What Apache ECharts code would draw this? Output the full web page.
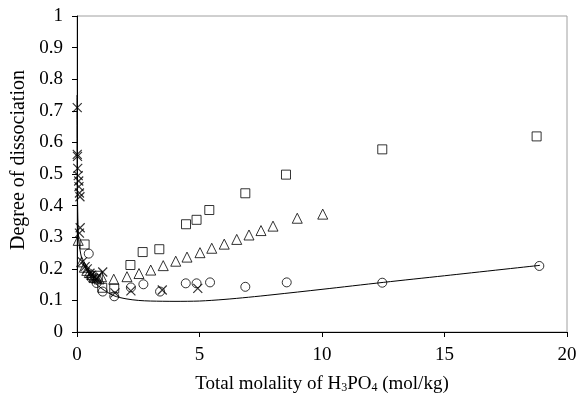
<!DOCTYPE html>
<html>
<head>
<meta charset="utf-8">
<script src="https://cdn.jsdelivr.net/npm/echarts@6/dist/echarts.min.js"></script>
<style>html,body{margin:0;padding:0;background:#fff}#c{width:579px;height:397px}</style>
</head>
<body>
<div id="c"></div>
<script>
var xTicks = [0, 5, 10, 15, 20];
var yTicks = [0, 0.1, 0.2, 0.3, 0.4, 0.5, 0.6, 0.7, 0.8, 0.9, 1];

var squares = [[0.31,0.277],[0.85,0.178],[1.03,0.14],[1.52,0.138],[2.18,0.212],[2.68,0.253],[3.36,0.262],[4.45,0.341],[4.88,0.355],[5.4,0.386],[6.87,0.439],[8.53,0.498],[12.46,0.578],[18.76,0.619]];
var triangles = [[0.05,0.29],[0.19,0.222],[0.3,0.205],[0.4,0.195],[0.5,0.188],[0.6,0.182],[0.7,0.177],[0.8,0.172],[0.9,0.168],[1.0,0.175],[1.5,0.167],[2.04,0.175],[2.53,0.185],[3.01,0.196],[3.52,0.21],[4.03,0.224],[4.49,0.237],[5.02,0.251],[5.5,0.265],[6.01,0.278],[6.52,0.293],[7.02,0.307],[7.51,0.321],[8.0,0.335],[8.99,0.36],[10.03,0.373]];
var circles = [[0.48,0.248],[0.6,0.17],[0.8,0.155],[1.05,0.128],[1.52,0.113],[2.2,0.141],[2.71,0.151],[3.39,0.128],[4.44,0.154],[4.88,0.154],[5.43,0.157],[6.87,0.143],[8.56,0.157],[12.46,0.156],[18.87,0.209]];
var crosses = [[0.01,0.71],[0.01,0.562],[0.02,0.556],[0.03,0.518],[0.05,0.495],[0.07,0.478],[0.08,0.46],[0.1,0.44],[0.12,0.428],[0.13,0.33],[0.1,0.313],[0.22,0.222],[0.33,0.207],[0.42,0.2],[0.53,0.186],[0.6,0.18],[0.67,0.17],[0.8,0.168],[1.05,0.19],[1.55,0.124],[2.2,0.13],[3.48,0.133],[4.93,0.138]];
var modelCurve = [[0.002,0.75],[0.01,0.5],[0.03,0.38],[0.06,0.3],[0.1,0.27],[0.2,0.23],[0.3,0.21],[0.5,0.18],[0.75,0.155],[1.0,0.138],[1.5,0.115],[2,0.105],[2.5,0.1],[3,0.098],[4,0.097],[5,0.098],[6,0.103],[7,0.11],[8,0.118],[10,0.135],[12.5,0.157],[15,0.178],[18.9,0.211]];

var font = 'Liberation Serif';
var fs = 19;
var mk = {color: 'rgba(255,255,255,0)', borderColor: '#000', borderWidth: 1};
var chart = echarts.init(document.getElementById('c'), null, {renderer: 'canvas'});
chart.setOption({
  animation: false,
  backgroundColor: '#fff',
  grid: {left: 77, right: 12, top: 16, bottom: 65, containLabel: false, outerBoundsMode: 'none',
         show: true, borderColor: '#a0a0a0', borderWidth: 1, backgroundColor: 'transparent'},
  xAxis: {
    type: 'value', min: xTicks[0], max: xTicks[xTicks.length-1], interval: 5,
    axisLine: {show: true, onZero: false, lineStyle: {color: '#000', width: 1}},
    axisTick: {show: true, inside: false, length: 5, lineStyle: {color: '#000'}},
    splitLine: {show: false},
    axisLabel: {fontFamily: font, fontSize: fs, color: '#000', margin: 14},
    name: 'Total molality of H{s|3}PO{s|4} (mol/kg)',
    nameLocation: 'middle', nameGap: 42,
    nameTextStyle: {fontFamily: font, fontSize: fs, color: '#000',
      rich: {s: {fontFamily: font, fontSize: 12, color: '#000', verticalAlign: 'bottom', padding: [8,0,0,0]}}}
  },
  yAxis: {
    type: 'value', min: 0, max: 1, interval: 0.1,
    axisLine: {show: true, onZero: false, lineStyle: {color: '#000', width: 1}},
    axisTick: {show: true, inside: false, length: 5, lineStyle: {color: '#000'}},
    splitLine: {show: false},
    axisLabel: {fontFamily: font, fontSize: fs, color: '#000', margin: 14,
      formatter: function(v){ return String(Math.round(v*10)/10); }},
    name: 'Degree of dissociation', nameLocation: 'middle', nameGap: 45, nameRotate: 90,
    nameTextStyle: {fontFamily: font, fontSize: 20, color: '#000', padding: [0, 0, 0, 28]}
  },
  series: [
    {type: 'line', data: modelCurve, showSymbol: false, symbol: 'none', smooth: 0.3,
     lineStyle: {color: '#000', width: 1}, z: 1},
    {type: 'scatter', data: squares, symbol: 'rect', symbolSize: 9, itemStyle: mk, z: 3},
    {type: 'scatter', data: triangles, symbol: 'triangle', symbolSize: 10, itemStyle: mk, z: 3},
    {type: 'scatter', data: circles, symbol: 'circle', symbolSize: 9, itemStyle: mk, z: 3},
    {type: 'scatter', data: crosses, symbol: 'path://M0 0L10 10M10 0L0 10', symbolSize: 9,
     itemStyle: {color: 'none', borderColor: '#000', borderWidth: 1.2}, z: 3}
  ]
});
</script>
</body>
</html>
